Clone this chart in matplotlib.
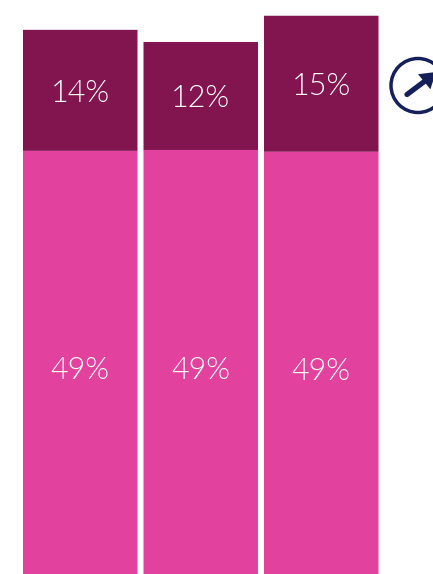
import matplotlib
matplotlib.use("Agg")
import matplotlib.pyplot as plt
from matplotlib.patches import Circle, FancyArrowPatch

positions = [0, 1, 2]
lower_values = [49.0, 49.1, 48.9]
upper_values = [13.66, 12.19, 15.35]
lower_labels = ["49%", "49%", "49%"]
upper_labels = ["14%", "12%", "15%"]

W, H = 433, 574
PINK = "#E2429D"
PLUM = "#821550"
NAVY = "#15205A"

plt.rcParams["font.family"] = ["Lato", "DejaVu Sans"]
fig = plt.figure(figsize=(W / 100, H / 100), dpi=100, facecolor="white")

ax = fig.add_axes([0, 0, 1, 1])
step, y_scale = 120.5, 8.86
ax.set_xlim(-80.25 / step, (W - 80.25) / step)
ax.set_ylim(11 / y_scale, 585 / y_scale)
ax.axis("off")

width = 114.5 / step
for bars in (ax.bar(positions, lower_values, width=width, color=PINK, linewidth=0),
             ax.bar(positions, upper_values, width=width, bottom=lower_values, color=PLUM, linewidth=0)):
    for b in bars:
        b.set_snap(False)

offset = 0.3
for x, low, up, low_text, up_text in zip(positions, lower_values, upper_values, lower_labels, upper_labels):
    ax.text(x, low / 2 - offset, low_text, color="white", fontsize=22, fontweight=300, ha="center", va="center")
    ax.text(x, low + up / 2 - offset, up_text, color="white", fontsize=22, fontweight=300, ha="center", va="center")

icon = fig.add_axes([0, 0, 1, 1], facecolor="none")
icon.set_xlim(0, W)
icon.set_ylim(H, 0)
icon.axis("off")
icon.add_patch(Circle((418, 85.5), 27, fill=False, edgecolor=NAVY, linewidth=2.5, clip_on=False))
icon.plot([407, 425], [94.5, 81], color=NAVY, linewidth=3.8, solid_capstyle="round")
icon.add_patch(FancyArrowPatch((419, 86), (436, 72), arrowstyle="-|>,head_length=11,head_width=7",
                               mutation_scale=1, facecolor=NAVY, edgecolor="none", linewidth=0,
                               shrinkA=0, shrinkB=0))

fig.savefig("out.png", dpi=100)
